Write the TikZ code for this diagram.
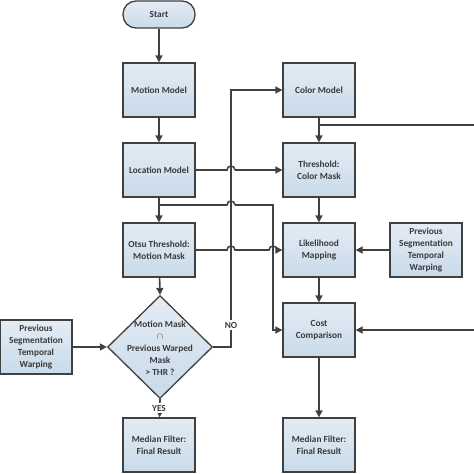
\documentclass[tikz,border=0pt]{standalone}
\usepackage{fontspec}
\setmainfont{Carlito}
\usetikzlibrary{arrows.meta,shapes.geometric}
\definecolor{ln}{HTML}{404040}
\definecolor{tx}{HTML}{3a3a3a}
\definecolor{ftop}{RGB}{228,236,244}
\definecolor{fbot}{RGB}{200,218,234}
\begin{document}
\begin{tikzpicture}[x=1pt,y=-1pt,
  txt/.style={font=\fontsize{9.3}{12}\selectfont\bfseries,text=tx,align=center},
  box/.style={txt,draw=ln,line width=1.3pt,top color=ftop,bottom color=fbot,minimum width=72pt,minimum height=54pt,inner sep=1pt},
  term/.style={box,minimum height=27pt,rounded corners=13pt},
  dia/.style={diamond,draw=ln,line width=1.3pt,top color=ftop,bottom color=fbot,minimum width=105pt,minimum height=103pt,inner sep=0pt},
  con/.style={draw=ln,line width=1.6pt},
  arr/.style={con,-{Triangle[length=7pt,width=7pt]}},
  lbl/.style={txt,fill=white,inner sep=1.5pt}]
\useasboundingbox (0,0) rectangle (474,474);
% left column
\node[term] (start) at (159,14.5) {Start};
\node[box] (mm) at (159,90) {Motion Model};
\node[box] (loc) at (159,170) {Location Model};
\node[box] (otsu) at (159,250) {Otsu Threshold:\\Motion Mask};
\node[dia] (dec) at (160,347) {};
\node[txt] (dect) at (160,348) {Motion Mask\\$\cap$\\Previous Warped\\Mask\\> THR ?};
\node[box] (medl) at (159,445) {Median Filter:\\Final Result};
\node[box] (prevl) at (36,347) {Previous\\Segmentation\\Temporal\\Warping};
% right column
\node[box] (cm) at (319,90) {Color Model};
\node[box] (thr) at (319,170) {Threshold:\\Color Mask};
\node[box] (lik) at (319,250) {Likelihood\\Mapping};
\node[box] (prevr) at (426,250) {Previous\\Segmentation\\Temporal\\Warping};
\node[box] (cost) at (319,330) {Cost\\Comparison};
\node[box] (medr) at (319,445) {Median Filter:\\Final Result};
% helper coordinates
\coordinate (nox) at (231,0);
\coordinate (brx) at (273,0);
\coordinate (br) at (159,205);
\coordinate (cmb) at (319,125);
\coordinate (edgeA) at (474,125);
\coordinate (edgeB) at (474,330);
% connectors
\draw[arr] (start) -- (mm);
\draw[arr] (mm) -- (loc);
\draw[arr] (loc) -- (otsu);
\draw[arr] (otsu) -- (dec.north);
\draw[arr] (dec.south) -- (medl);
\draw[arr] (prevl) -- (dec.west);
\draw[arr] (dec.east) -- (dec.east -| nox) -- (nox |- cm.west) -- (cm.west);
\node[lbl] (no) at (231,325) {NO};
\node[lbl] (yes) at (159,408) {YES};
\draw[con] (loc.east) -- (227,170) arc[start angle=180,end angle=0,radius=4pt];
\draw[arr] (235,170) -- (thr.west);
\draw[con] (br) -- (227,205) arc[start angle=180,end angle=0,radius=4pt];
\draw[arr] (235,205) -- (brx |- br) -- (brx |- cost.west) -- (cost.west);
\draw[con] (otsu.east) -- (227,250) arc[start angle=180,end angle=0,radius=4pt] -- (269,250) arc[start angle=180,end angle=0,radius=4pt];
\draw[arr] (277,250) -- (lik.west);
\draw[arr] (cm) -- (thr);
\draw[con] (cmb) -- (edgeA);
\draw[arr] (edgeB) -- (cost.east);
\draw[arr] (thr) -- (lik);
\draw[arr] (prevr) -- (lik);
\draw[arr] (lik) -- (cost);
\draw[arr] (cost) -- (medr);
\end{tikzpicture}
\end{document}
